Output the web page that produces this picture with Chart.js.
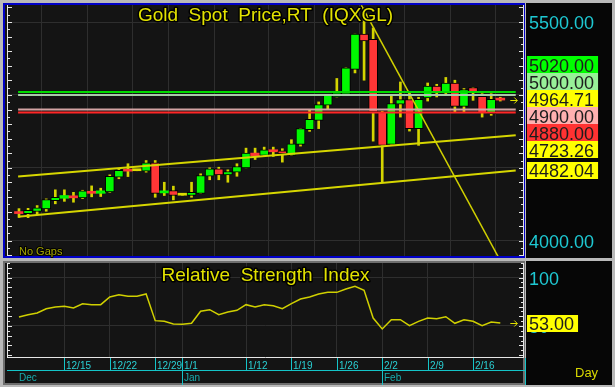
<!DOCTYPE html>
<html>
<head>
<meta charset="utf-8">
<script src="https://cdn.jsdelivr.net/npm/chart.js@4.4.1/dist/chart.umd.min.js"></script>
<style>
  body { margin: 0; background: #b9b9b9; }
  #wrap { position: relative; width: 615px; height: 387px; overflow: hidden; background: #b9b9b9; }
  canvas { position: absolute; left: 0; }
  #price { top: 0; }
  #rsi { top: 259px; }
</style>
</head>
<body>
<div id="wrap">
  <canvas id="price" width="615" height="259"></canvas>
  <canvas id="rsi" width="615" height="128"></canvas>
</div>
<script>
// ---- data ----
var dates = ['12/8','12/9','12/10','12/11','12/12','12/15','12/16','12/17','12/18','12/19',
  '12/22','12/23','12/24','12/25','12/26','12/29','12/30','12/31','1/1','1/2',
  '1/5','1/6','1/7','1/8','1/9','1/12','1/13','1/14','1/15','1/16',
  '1/19','1/20','1/21','1/22','1/23','1/26','1/27','1/28','1/29','1/30',
  '2/2','2/3','2/4','2/5','2/6','2/9','2/10','2/11','2/12','2/13',
  '2/16','2/17','2/18','2/19'];
var open = [4193,4186,4200,4218,4275,4291,4308,4294,4339,4325,
  4335,4436,4484,4480,4477,4535,4328,4344,4312,4310,
  4325,4442,4493,4452,4470,4500,4601,4585,4624,4617,
  4585,4661,4762,4826,4929,4986,5005,5175,5417,5381,
  4883,4661,4936,4968,4769,4979,5060,5016,5082,4922,
  5051,4991,4872,4975];
var high = [4220,4222,4241,4287,4349,4349,4332,4346,4376,4360,
  4452,4489,4528,4480,4550,4550,4401,4374,4312,4401,
  4459,4500,4504,4486,4528,4635,4635,4642,4642,4631,
  4693,4769,4895,4952,4998,5113,5186,5417,5595,5459,
  4888,4991,5089,5020,4984,5082,5073,5120,5101,5044,
  5051,5009,5009,4984];
var low = [4160,4158,4179,4202,4253,4270,4264,4289,4301,4303,
  4332,4425,4440,4480,4470,4298,4310,4280,4312,4298,
  4325,4418,4418,4401,4442,4500,4557,4578,4578,4539,
  4585,4649,4750,4769,4899,4986,4998,5151,5101,4683,
  4401,4661,4848,4752,4654,4958,4986,5009,4883,4883,
  4963,4848,4860,4958];
var close = [4186,4208,4225,4282,4298,4310,4294,4342,4325,4342,
  4442,4482,4477,4480,4535,4325,4342,4310,4312,4332,
  4447,4493,4452,4475,4509,4601,4583,4624,4610,4597,
  4665,4769,4833,4934,4998,5014,5186,5417,5371,4883,
  4654,4941,4968,4769,4970,5060,5020,5082,4922,5037,
  5016,4876,4970,4964.71];
var rsi = [59.3,61.6,63.4,67.8,69.6,70.3,68.6,73.0,72.0,72.0,
  79.9,82.3,80.6,80.6,83.0,55.5,54.8,52.1,51.8,52.8,
  65.2,66.8,61.6,64.4,66.2,72.0,69.6,72.0,70.9,67.8,
  73.0,77.8,79.9,83.0,84.7,84.7,88.1,90.9,86.8,58.2,
  46.9,56.5,56.5,50.3,54.8,58.2,57.5,59.6,52.8,56.5,
  54.8,50.3,54.1,53.0];

var weekTicks = ['12/15','12/22','12/29','1/1','1/12','1/19','1/26','2/2','2/9','2/16'];
var monthNames = ['Dec','Jan','Feb'];
var monthFirst = ['12/8','1/1','2/2'];

var levels = [5020, 5000, 4900, 4880];
var channelSpan = [-0.1, 54.7];          // bar index where the channel lines start / end
var channelUpper = [4440, 4723.26];
var channelLower = [4165, 4482.04];
var downX = [37.7, 52.9];
var downY = [5615, 3875];
var priceScaleLabels = [5500, 4000];
var rsiScaleLabels = [100, 50];

var priceTitle = 'Gold  Spot  Price,RT  (IQXGL)';
var rsiTitle = 'Relative  Strength  Index';

// ---- styles ----
var FONT = '"Liberation Sans", Arial, sans-serif';
var levelLine = ['#00dc00', '#a8cca8', '#d4a4a4', '#ff2626'];
var levelBox = ['#00ff00', '#98f098', '#ffb0b0', '#ff3232'];
var xMin = -1.21, xMax = 55.5;
var lastIdx = dates.length - 1;
var weekIdx = weekTicks.map(function (d) { return dates.indexOf(d); });

function bodyColor(i) {
  if (close[i] > open[i]) return '#00f800';
  if (close[i] < open[i]) return '#ff3636';
  return '#dcdc00';
}

function outlined(ctx, text, x, y, font, color, align, lw) {
  ctx.save();
  ctx.font = font; ctx.textAlign = align; ctx.textBaseline = 'alphabetic';
  ctx.lineJoin = 'round'; ctx.lineWidth = lw || 3; ctx.strokeStyle = '#000';
  ctx.strokeText(text, x, y);
  ctx.fillStyle = color; ctx.fillText(text, x, y);
  ctx.restore();
}

function drawAxes(chart, longStep) {
  var ctx = chart.ctx, a = chart.chartArea, ys = chart.scales.y;
  ctx.save();
  ctx.strokeStyle = '#e6e6e6'; ctx.lineWidth = 1;
  ctx.beginPath();
  ctx.moveTo(a.left - 0.5, a.top); ctx.lineTo(a.left - 0.5, a.bottom);
  ctx.moveTo(a.right + 0.5, a.top); ctx.lineTo(a.right + 0.5, a.bottom);
  ys.ticks.forEach(function (t) {
    var y = Math.round(ys.getPixelForValue(t.value)) + 0.5;
    var len = t.value % longStep === 0 ? 5 : 3;
    ctx.moveTo(a.left - 1, y); ctx.lineTo(a.left - 1 + len, y);
    ctx.moveTo(a.right + 1, y); ctx.lineTo(a.right + 1 - len, y);
  });
  ctx.stroke();
  ctx.restore();
}

function arrow(ctx, x, y) {
  y = Math.round(y) + 0.5;
  ctx.save(); ctx.strokeStyle = '#e0e000'; ctx.lineWidth = 1;
  ctx.beginPath();
  ctx.moveTo(x, y); ctx.lineTo(x + 7, y);
  ctx.moveTo(x + 4, y - 3); ctx.lineTo(x + 7, y); ctx.lineTo(x + 4, y + 3);
  ctx.stroke(); ctx.restore();
}

function plainLabel(ctx, text, x, y) {
  ctx.save();
  ctx.font = '18px ' + FONT; ctx.fillStyle = '#1ec8d2';
  ctx.textAlign = 'left'; ctx.textBaseline = 'alphabetic';
  ctx.fillText(text, x + 2, y + 7);
  ctx.restore();
}

function boxLabel(ctx, text, x, yc, bg) {
  ctx.save();
  ctx.font = '18px ' + FONT;
  var w = ctx.measureText(text).width + 6;
  ctx.fillStyle = bg; ctx.fillRect(x, Math.round(yc - 8.5), w, 17);
  ctx.fillStyle = '#1c1c1c'; ctx.textAlign = 'left'; ctx.textBaseline = 'alphabetic';
  ctx.fillText(text, x + 2, yc + 7);
  ctx.restore();
}

// push overlapping labels apart, each group centred on the mean of its wanted positions
function stackLabels(items, h) {
  var groups = items.map(function (it) { return { m: [it], top: it.want - h / 2 }; });
  var again = true;
  while (again) {
    again = false;
    for (var i = 0; i < groups.length - 1; i++) {
      var g1 = groups[i], g2 = groups[i + 1];
      if (g1.top + g1.m.length * h > g2.top) {
        var m = g1.m.concat(g2.m);
        var mean = m.reduce(function (s, it) { return s + it.want; }, 0) / m.length;
        groups.splice(i, 2, { m: m, top: mean - m.length * h / 2 });
        again = true;
        break;
      }
    }
  }
  groups.forEach(function (g) {
    g.m.forEach(function (it, k) { it.y = g.top + k * h + h / 2; });
  });
}

function panelBack(chart, frameColor, frameBottom) {
  var ctx = chart.ctx, a = chart.chartArea;
  ctx.save();
  ctx.fillStyle = '#b9b9b9'; ctx.fillRect(0, 0, chart.width, chart.height);
  ctx.fillStyle = frameColor;
  ctx.fillRect(a.left - 5, a.top - 2, a.right - a.left + 7, frameBottom - a.top + 2);
  ctx.fillStyle = '#141414';
  ctx.fillRect(a.left - 3, a.top, a.right - a.left + 3, frameBottom - a.top - 2);
  ctx.fillStyle = '#060606';
  ctx.fillRect(a.right + 3, a.top - 2, 86, frameBottom - a.top + 2);
  ctx.restore();
}

var priceDecor = {
  id: 'priceDecor',
  beforeDraw: function (chart) {
    panelBack(chart, '#0000c8', chart.chartArea.bottom + 2);
  },
  afterDraw: function (chart) {
    var ctx = chart.ctx, a = chart.chartArea, ys = chart.scales.y, xs = chart.scales.x;
    drawAxes(chart, 100);
    outlined(ctx, priceTitle, (a.left + a.right) / 2, a.top + 16, '19px ' + FONT, '#e2e200', 'center');
    outlined(ctx, 'No Gaps', a.left + 11, a.bottom - 1, '11px ' + FONT, '#a4a400', 'left', 2);
    arrow(ctx, xs.getPixelForValue(lastIdx) + 10, ys.getPixelForValue(close[lastIdx]));

    var lx = a.right + 4;
    priceScaleLabels.forEach(function (v) {
      plainLabel(ctx, v.toFixed(2), lx, ys.getPixelForValue(v));
    });
    var items = [];
    levels.forEach(function (v, i) { items.push({ v: v, bg: levelBox[i] }); });
    items.push({ v: close[lastIdx], bg: '#ffff00' });
    items.push({ v: channelUpper[1], bg: '#ffff00' });
    items.push({ v: channelLower[1], bg: '#ffff00' });
    items.sort(function (p, q) { return q.v - p.v; });
    items.forEach(function (it) { it.want = ys.getPixelForValue(it.v); });
    stackLabels(items, 17);
    items.forEach(function (it) { boxLabel(ctx, it.v.toFixed(2), lx, it.y, it.bg); });
  }
};

var rsiDecor = {
  id: 'rsiDecor',
  beforeDraw: function (chart) {
    panelBack(chart, '#6e6e6e', chart.height - 2);
  },
  afterDraw: function (chart) {
    var ctx = chart.ctx, a = chart.chartArea, ys = chart.scales.y, xs = chart.scales.x;
    drawAxes(chart, 10);
    ctx.save();
    ctx.strokeStyle = '#e6e6e6';
    ctx.beginPath(); ctx.moveTo(a.left - 1, a.bottom + 0.5); ctx.lineTo(a.right + 1, a.bottom + 0.5); ctx.stroke();
    ctx.restore();
    outlined(ctx, rsiTitle, (a.left + a.right) / 2, a.top + 18, '19px ' + FONT, '#e2e200', 'center');
    arrow(ctx, xs.getPixelForValue(lastIdx) + 10, ys.getPixelForValue(rsi[lastIdx]));

    // date axis
    var rowY = a.bottom + 13;
    ctx.save();
    ctx.strokeStyle = '#14c4c8'; ctx.lineWidth = 1;
    ctx.beginPath();
    weekIdx.forEach(function (i) {
      var x = Math.round(xs.getPixelForValue(i)) + 0.5;
      ctx.moveTo(x, a.bottom + 1); ctx.lineTo(x, rowY);
    });
    monthFirst.forEach(function (d, k) {
      if (k === 0) return;
      var x = Math.round(xs.getPixelForValue(dates.indexOf(d))) + 0.5;
      ctx.moveTo(x, a.bottom + 1); ctx.lineTo(x, chart.height - 2);
    });
    ctx.moveTo(a.left - 1, rowY + 0.5); ctx.lineTo(a.right + 2, rowY + 0.5);
    ctx.moveTo(a.right + 2.5, a.bottom + 1); ctx.lineTo(a.right + 2.5, chart.height - 2);
    ctx.stroke();
    ctx.font = '10px ' + FONT; ctx.textAlign = 'left'; ctx.textBaseline = 'alphabetic';
    ctx.fillStyle = '#2ad0d4';
    weekIdx.forEach(function (i, k) {
      ctx.fillText(weekTicks[k], Math.round(xs.getPixelForValue(i)) + 2, rowY - 1);
    });
    ctx.fillStyle = '#18acae';
    monthFirst.forEach(function (d, k) {
      ctx.fillText(monthNames[k], Math.round(xs.getPixelForValue(dates.indexOf(d))) + (k === 0 ? 0 : 2), rowY + 11);
    });
    ctx.font = '13px ' + FONT; ctx.fillStyle = '#d8d800';
    ctx.fillText('Day', a.right + 52, a.bottom + 20);
    ctx.restore();

    var lx = a.right + 4;
    rsiScaleLabels.forEach(function (v) {
      plainLabel(ctx, String(v), lx, ys.getPixelForValue(v));
    });
    boxLabel(ctx, rsi[lastIdx].toFixed(2), lx, ys.getPixelForValue(rsi[lastIdx]), '#ffff00');
  }
};

function xScale() {
  return {
    type: 'linear', min: xMin, max: xMax, offset: false,
    afterFit: function (s) { s.height = 0; },
    afterBuildTicks: function (s) { s.ticks = weekIdx.map(function (v) { return { value: v }; }); },
    ticks: { display: false },
    border: { display: false },
    grid: { color: '#2e2e2e', drawTicks: false }
  };
}

function yScale(min, max, step, gridEvery) {
  return {
    min: min, max: max, position: 'right',
    afterFit: function (s) { s.width = 0; },
    afterBuildTicks: function (s) {
      var t = [];
      for (var v = Math.ceil(min / step) * step; v <= max; v += step) t.push({ value: v });
      s.ticks = t;
    },
    ticks: { display: false },
    border: { display: false },
    grid: {
      drawTicks: false,
      color: function (c) { return c.tick && c.tick.value % gridEvery === 0 ? '#2e2e2e' : 'rgba(0,0,0,0)'; }
    }
  };
}

// ---- price panel ----
var priceSets = [];
levels.forEach(function (v, i) {
  priceSets.push({
    type: 'line', order: 0,
    data: [{ x: channelSpan[0], y: v }, { x: channelSpan[1], y: v }],
    borderColor: levelLine[i], borderWidth: 2, pointRadius: 0
  });
});
priceSets.push({
  type: 'line', order: 0,
  data: [{ x: channelSpan[0], y: channelUpper[0] }, { x: channelSpan[1], y: channelUpper[1] }],
  borderColor: '#d6d600', borderWidth: 2, pointRadius: 0
});
priceSets.push({
  type: 'line', order: 0,
  data: [{ x: channelSpan[0], y: channelLower[0] }, { x: channelSpan[1], y: channelLower[1] }],
  borderColor: '#d6d600', borderWidth: 2, pointRadius: 0
});
priceSets.push({
  type: 'line', order: 0,
  data: [{ x: downX[0], y: downY[0] }, { x: downX[1], y: downY[1] }],
  borderColor: '#d0d000', borderWidth: 1.5, pointRadius: 0
});
priceSets.push({
  type: 'bar', order: 1, grouped: false,
  data: dates.map(function (d, i) { return { x: i, y: [open[i], close[i]] }; }),
  backgroundColor: function (c) { return bodyColor(c.dataIndex); },
  borderColor: '#000',
  borderWidth: function (c) { return Math.abs(open[c.dataIndex] - close[c.dataIndex]) < 20 ? 0 : 1; },
  borderSkipped: false,
  barThickness: 9, minBarLength: 2
});
priceSets.push({
  type: 'bar', order: 2, grouped: false,
  data: dates.map(function (d, i) { return { x: i, y: [low[i], high[i]] }; }),
  backgroundColor: '#d4d400',
  barThickness: 2
});

new Chart(document.getElementById('price'), {
  type: 'bar',
  data: { datasets: priceSets },
  options: {
    responsive: false, animation: false,
    layout: { padding: { left: 8, right: 92, top: 5, bottom: 3 } },
    plugins: { legend: { display: false }, tooltip: { enabled: false } },
    scales: { x: xScale(), y: yScale(3895, 5617, 50, 500) }
  },
  plugins: [priceDecor]
});

// ---- RSI panel ----
new Chart(document.getElementById('rsi'), {
  type: 'line',
  data: {
    datasets: [{
      data: rsi.map(function (v, i) { return { x: i, y: v }; }),
      borderColor: '#d0d000', borderWidth: 1.5, pointRadius: 0, tension: 0
    }]
  },
  options: {
    responsive: false, animation: false,
    layout: { padding: { left: 8, right: 92, top: 4, bottom: 30 } },
    plugins: { legend: { display: false }, tooltip: { enabled: false } },
    scales: { x: xScale(), y: yScale(18, 115, 5, 50) }
  },
  plugins: [rsiDecor]
});
</script>
</body>
</html>
